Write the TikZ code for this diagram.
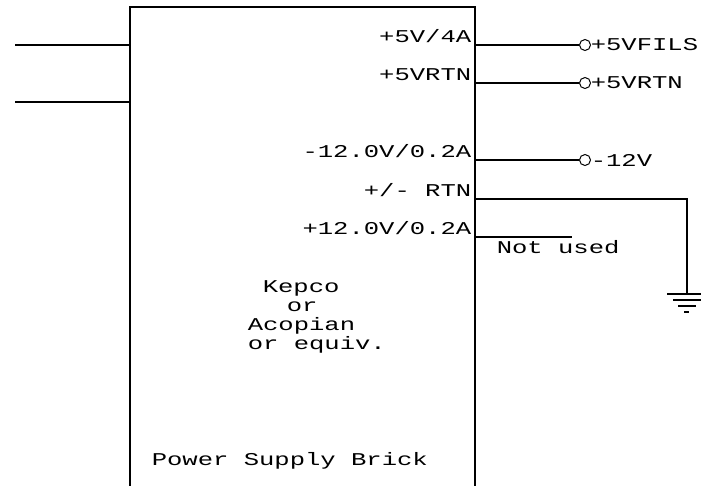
\documentclass[tikz,border=0pt]{standalone}
\usepackage{fontspec}
\usetikzlibrary{positioning}
\newfontfamily\cadfont[FakeStretch=1.42]{Liberation Mono}

\begin{document}
\begin{tikzpicture}[x=1pt,y=-1pt,line width=1.5pt,
		   brick/.style={draw,rectangle,minimum width=345pt,minimum height=498pt,inner sep=0pt},
		   pinlabel/.style={anchor=base east,inner sep=0pt,font=\cadfont\fontsize{18}{18}\selectfont},
		   outlabel/.style={anchor=west,inner sep=0pt,font=\cadfont\fontsize{18}{18}\selectfont},
		   note/.style={anchor=base west,inner sep=0pt,font=\cadfont\fontsize{18}{18}\selectfont},
		   terminal/.style={draw,circle,line width=1pt,minimum size=11pt,inner sep=0pt},
		   wire/.style={draw,line width=1.5pt}]

	\useasboundingbox (0,0) rectangle (701,485);
	\clip (0,0) rectangle (701,485);

	\node[brick] (brick) at (302.5,256) {};

	% inputs on the left
	\foreach \y [count=\i] in {45,102} {
		\coordinate (in-\i) at (15,\y);
		\draw[wire] (in-\i) -- (in-\i -| brick.west);
	}

	% labels inside the brick
	\foreach \y/\txt [count=\i] in {%
		42/{+5V/4A},%
		80/+5VRTN,%
		157/{-12.0V/0.2A},%
		196/{+/- RTN},%
		234/{+12.0V/0.2A}%
	} {
		\node[pinlabel] (pin-\i) at (472,\y) {\txt};
	}

	% outputs with a terminal
	\foreach \y/\txt [count=\i] in {45/+5VFILS,83/+5VRTN,160/-12V} {
		\node[terminal] (term-\i) at (585,\y) {};
		\node[outlabel,right=-1pt of term-\i] (out-\i) {\txt};
		\draw[wire] (term-\i -| brick.east) -- (term-\i);
	}

	% return to ground
	\coordinate (gnd) at (687,294);
	\coordinate (rtn) at (brick.east |- 0,199);
	\draw[wire] (rtn) -| (gnd);
	\draw[wire] (667,294) -- (701,294);
	\draw[wire] (673,300) -- (701,300);
	\draw[wire] (678,306) -- (696,306);
	\draw[wire] (684,312) -- (689,312);

	% unused output
	\coordinate (nc) at (572,237);
	\draw[wire] (nc -| brick.east) -- (nc);
	\node[note] (notused) at (496,253) {Not used};

	% text in the brick
	\node[note] (kepco) at (262,292) {Kepco};
	\node[note] (or) at (286,311) {or};
	\node[note] (acopian) at (247,330) {Acopian};
	\node[note] (equiv) at (247,349) {or equiv.};
	\node[note] (title) at (151,465) {Power Supply Brick};
\end{tikzpicture}
\end{document}
